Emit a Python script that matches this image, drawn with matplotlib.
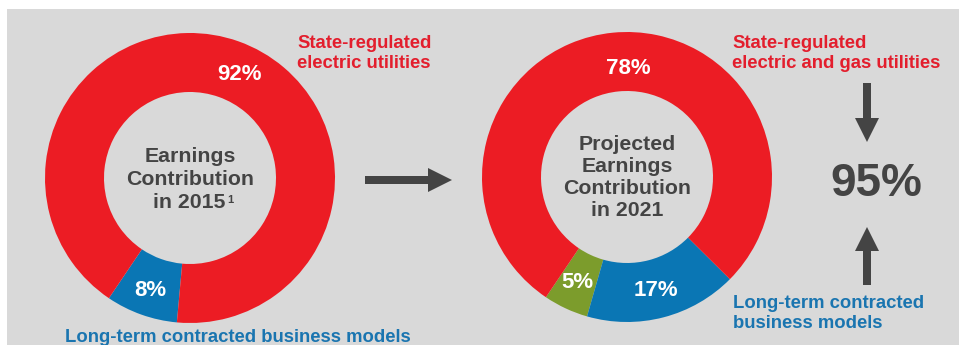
import matplotlib
matplotlib.use("Agg")
import matplotlib.pyplot as plt
from matplotlib.patches import Rectangle, FancyArrow

# ---- data ----
left_labels = ["Long-term contracted", "State-regulated"]
left_values = [8, 92]
right_labels = ["Other", "Long-term contracted", "State-regulated"]
right_values = [5, 17, 78]
combined_pct = "95%"

RED = "#EC1C24"
BLUE = "#0A76B4"
GREEN = "#7C9C2C"
BG = "#D9D9D9"
DARK = "#444444"
TXT_RED = "#E31E2D"
TXT_BLUE = "#1A75B0"

plt.rcParams["font.family"] = ["Liberation Sans", "DejaVu Sans"]

W, H = 959, 345
fig = plt.figure(figsize=(W / 100, H / 100), dpi=100)
ax = fig.add_axes([0, 0, 1, 1])

ax.add_patch(Rectangle((7, 0), W - 7, H - 9, facecolor=BG, edgecolor="none", zorder=0))

R = 145
ring = 59
# left donut
ax.pie(left_values, colors=[BLUE, RED], startangle=236, counterclock=True,
       radius=R, center=(190, 167), frame=True,
       wedgeprops=dict(width=ring, edgecolor="none"))
# right donut
ax.pie(right_values, colors=[GREEN, BLUE, RED], startangle=236, counterclock=True,
       radius=R, center=(627, 168), frame=True,
       wedgeprops=dict(width=ring, edgecolor="none"))
ax.set_xlim(0, W)
ax.set_ylim(0, H)
ax.set_aspect("equal")
ax.axis("off")

bold = dict(fontweight="bold")
pct_kw = dict(color="white", fontsize=16, ha="center", va="center", **bold)
ax.text(240, 345 - 75, f"{left_values[1]}%", **pct_kw)
ax.text(150, 345 - 290, f"{left_values[0]}%", **pct_kw)
ax.text(628, 345 - 68, f"{right_values[2]}%", **pct_kw)
ax.text(577, 345 - 283, f"{right_values[0]}%", **pct_kw)
ax.text(656, 345 - 290, f"{right_values[1]}%", **pct_kw)

line_kw = dict(color=DARK, fontsize=15.3, ha="center", va="baseline", **bold)
ax.text(190, 345 - 162, "Earnings", **line_kw)
ax.text(190, 345 - 185, "Contribution", **line_kw)
ax.text(189, 345 - 208, "in 2015", **line_kw)
ax.text(227, 345 - 203, "1", color=DARK, fontsize=8, ha="left", va="baseline", **bold)

ctr_kw = dict(color=DARK, fontsize=15.3, ha="center", va="center", linespacing=1.2, **bold)
ax.text(627, 345 - 178, "Projected\nEarnings\nContribution\nin 2021", **ctr_kw)

lab_kw = dict(fontsize=13.3, ha="left", va="baseline", linespacing=1.2, **bold)
ax.text(297, 345 - 68, "State-regulated\nelectric utilities", color=TXT_RED, **lab_kw)
ax.text(732, 345 - 68, "State-regulated\nelectric and gas utilities", color=TXT_RED, **lab_kw)
ax.text(733, 345 - 328, "Long-term contracted\nbusiness models", color=TXT_BLUE, **lab_kw)
ax.text(238, 345 - 342, "Long-term contracted business models", color=TXT_BLUE,
        fontsize=13.3, ha="center", va="baseline", **bold)

ax.text(876, 345 - 184, combined_pct, color=DARK, fontsize=33, ha="center", va="center", **bold)

arr_kw = dict(width=8, head_width=24, head_length=24, length_includes_head=True,
              facecolor=DARK, edgecolor="none")
ax.add_patch(FancyArrow(365, 345 - 180, 452 - 365, 0, **arr_kw))
ax.add_patch(FancyArrow(867, 345 - 83, 0, -(142 - 83), **arr_kw))
ax.add_patch(FancyArrow(867, 345 - 285, 0, 285 - 227, **arr_kw))

fig.savefig("out.png", dpi=100)
